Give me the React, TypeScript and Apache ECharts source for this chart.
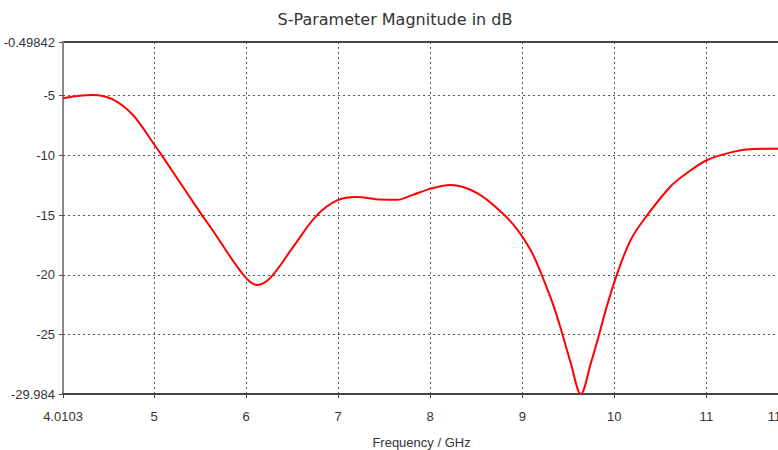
import React, { useEffect, useRef } from "react";
import * as echarts from "echarts";

const freqs = [4.0103, 4.17, 4.336, 4.55, 4.77, 4.99, 5.084, 5.519, 5.61, 5.97, 6.118, 6.262, 6.513, 6.77, 7.0, 7.2, 7.46, 7.64, 7.81, 8.0, 8.22, 8.51, 8.78, 8.95, 9.09, 9.19, 9.34, 9.437, 9.527, 9.636, 9.745, 9.835, 9.92, 10.027, 10.17, 10.318, 10.61, 10.79, 11.01, 11.29, 11.51, 11.8];
const dbValues = [-5.21, -5.02, -4.93, -5.3, -6.61, -8.96, -10.0, -15.0, -15.97, -20.0, -20.85, -20.26, -17.64, -15.0, -13.73, -13.48, -13.7, -13.72, -13.3, -12.8, -12.48, -13.15, -14.8, -16.25, -17.92, -19.6, -22.6, -25.0, -27.4, -29.984, -27.4, -25.0, -22.6, -20.0, -17.2, -15.41, -12.6, -11.47, -10.38, -9.7, -9.46, -9.44];

const xMin = 4.0103;
const xMax = 11.8;
const yMin = -29.984;
const yMax = -0.49842;
const xTickValues = [4.0103, 5, 6, 7, 8, 9, 10, 11, 11.8];
const xTickLabels = ["4.0103", "5", "6", "7", "8", "9", "10", "11", "11.8"];
const yTickValues = [-29.984, -25, -20, -15, -10, -5, -0.49842];
const yTickLabels = ["-29.984", "-25", "-20", "-15", "-10", "-5", "-0.49842"];
const xGridValues = [5, 6, 7, 8, 9, 10, 11];
const yGridValues = [-25, -20, -15, -10, -5];

const titleText = "S-Parameter Magnitude in dB";
const xAxisName = "Frequency / GHz";

const tickFont = '"Liberation Sans", Arial, sans-serif';

export default function App() {
  const ref = useRef<HTMLDivElement>(null);
  useEffect(() => {
    if (!ref.current) return;
    const chart = echarts.init(ref.current, null, { renderer: "svg" });
    const gridLine = { type: [2, 3] as any, color: "#555", width: 1 };
    chart.setOption({
      animation: false,
      backgroundColor: "#ffffff",
      title: {
        text: titleText,
        left: 390,
        textAlign: "center",
        top: 6,
        textStyle: { fontFamily: '"DejaVu Sans", Verdana, sans-serif', fontSize: 16, fontWeight: "normal", color: "#333" },
      },
      grid: {
        left: 63,
        top: 42,
        bottom: 56,
        right: -2,
        outerBoundsMode: "none",
        containLabel: false,
        show: true,
        borderColor: "#444",
        borderWidth: 2,
        backgroundColor: "transparent",
      },
      xAxis: {
        type: "value",
        min: xMin,
        max: xMax,
        name: xAxisName,
        nameLocation: "middle",
        nameGap: 42,
        nameTextStyle: { fontFamily: tickFont, fontSize: 13, color: "#333" },
        axisLine: { show: true, lineStyle: { color: "#444", width: 2 } },
        axisTick: { show: true, length: 4, customValues: xTickValues, lineStyle: { color: "#444" } },
        axisLabel: {
          customValues: xTickValues,
          margin: 16,
          fontFamily: tickFont,
          fontSize: 13,
          color: "#333",
          hideOverlap: false,
          formatter: (v: number) => {
            const i = xTickValues.findIndex((t) => Math.abs(t - v) < 1e-6);
            return i >= 0 ? xTickLabels[i] : "";
          },
        },
        splitLine: { show: false },
      },
      yAxis: {
        type: "value",
        min: yMin,
        max: yMax,
        axisLine: { show: true, lineStyle: { color: "#8a8a8a", width: 2 } },
        axisTick: { show: true, length: 4, customValues: yTickValues, lineStyle: { color: "#555" } },
        axisLabel: {
          customValues: yTickValues,
          margin: 8,
          fontFamily: tickFont,
          fontSize: 13,
          color: "#333",
          formatter: (v: number) => {
            const i = yTickValues.findIndex((t) => Math.abs(t - v) < 1e-6);
            return i >= 0 ? yTickLabels[i] : "";
          },
        },
        splitLine: { show: false },
      },
      series: [
        {
          type: "line",
          data: freqs.map((f, i) => [f, dbValues[i]]),
          smooth: 0.35,
          showSymbol: false,
          lineStyle: { color: "#ff0000", width: 2 },
          z: 5,
          markLine: {
            silent: true,
            symbol: "none",
            label: { show: false },
            lineStyle: gridLine,
            data: [
              ...yGridValues.map((v) => ({ yAxis: v })),
              ...xGridValues.map((v) => ({ xAxis: v })),
            ],
          },
        },
      ],
    });
    return () => chart.dispose();
  }, []);
  return (
    <div style={{ position: "fixed", left: 0, top: 0, width: 778, height: 450, overflow: "hidden" }}>
      <div ref={ref} style={{ width: 778, height: 450 }} />
    </div>
  );
}
